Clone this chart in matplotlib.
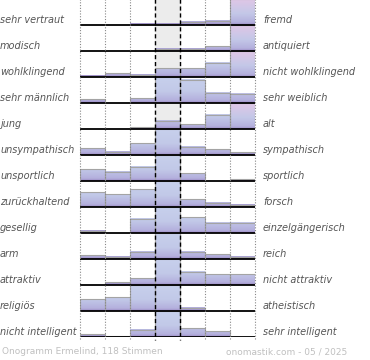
import numpy as np
import matplotlib
matplotlib.use('Agg')
import matplotlib.pyplot as plt
from matplotlib.colors import LinearSegmentedColormap

# semantic pairs, top to bottom
left_labels = ['sehr vertraut', 'modisch', 'wohlklingend', 'sehr männlich', 'jung',
               'unsympathisch', 'unsportlich', 'zurückhaltend', 'gesellig', 'arm',
               'attraktiv', 'religiös', 'nicht intelligent']
right_labels = ['fremd', 'antiquiert', 'nicht wohlklingend', 'sehr weiblich', 'alt',
                'sympathisch', 'sportlich', 'forsch', 'einzelgängerisch', 'reich',
                'nicht attraktiv', 'atheistisch', 'sehr intelligent']

# bar heights per row, 7 steps, as share of row height (>=1 is clipped)
votes = [
    [0.00, 0.00, 0.05, 0.05, 0.13, 0.17, 1.00],
    [0.00, 0.00, 0.00, 0.09, 0.09, 0.19, 1.00],
    [0.04, 0.14, 0.09, 0.33, 0.33, 0.54, 1.00],
    [0.14, 0.00, 0.18, 1.00, 0.89, 0.40, 0.35],
    [0.00, 0.00, 0.07, 0.31, 0.18, 0.54, 1.00],
    [0.26, 0.13, 0.45, 1.00, 0.32, 0.22, 0.10],
    [0.45, 0.36, 0.55, 1.00, 0.30, 0.00, 0.06],
    [0.57, 0.49, 0.68, 1.00, 0.30, 0.17, 0.08],
    [0.08, 0.00, 0.54, 1.00, 0.60, 0.40, 0.40],
    [0.15, 0.09, 0.28, 1.00, 0.28, 0.18, 0.09],
    [0.00, 0.10, 0.26, 1.00, 0.51, 0.41, 0.41],
    [0.46, 0.53, 1.00, 1.00, 0.13, 0.00, 0.00],
    [0.10, 0.02, 0.27, 1.00, 0.33, 0.23, 0.00],
]

footer_left = 'Onogramm Ermelind, 118 Stimmen'
footer_right = 'onomastik.com - 05 / 2025'

n_rows = len(left_labels)
n_cols = 7

fig = plt.figure(figsize=(3.7, 3.6), dpi=100)
ax = fig.add_axes([80/370, 23/360, 175/370, 338/360])
ax.set_xlim(0, n_cols)
ax.set_ylim(n_rows, 0)
ax.axis('off')

# center column shading
ax.axvspan(3, 4, color='#ececec', zorder=0)

blue_map = LinearSegmentedColormap.from_list('b', [(0, '#9a88c2'), (0.1, '#b4b0dd'),
                                                  (0.45, '#c2c9e8'), (1, '#c7d0ec')])
pink_map = LinearSegmentedColormap.from_list('p', [(0, '#9a88c2'), (0.1, '#b4b0dd'),
                                                  (0.45, '#c4c8e8'), (1, '#e0c6e6')])
grad = np.linspace(1, 0, 200)

for i, row in enumerate(votes):
    base = i + 1
    for c, v in enumerate(row):
        h = min(v, 1.0)
        if h <= 0:
            continue
        cmap = pink_map if c == n_cols - 1 else blue_map
        part = grad[grad <= h]
        img = cmap(part)[:, None, :]
        ax.imshow(img, extent=(c, c + 1, base, base - h), aspect='auto',
                  interpolation='bilinear', zorder=1)
        ax.plot([c, c, c + 1, c + 1], [base, base - h, base - h, base],
                color='#a4a4a4', lw=0.8, zorder=2)
    ax.plot([0, n_cols], [base, base], color='black', lw=1.3, zorder=3,
            solid_capstyle='butt')
    ax.text(-80/25, base - 0.2, left_labels[i], ha='left', va='center',
            fontsize=7, style='italic', color='#555555', clip_on=False)
    ax.text(n_cols + 8/25, base - 0.2, right_labels[i], ha='left', va='center',
            fontsize=7, style='italic', color='#555555', clip_on=False)

for x in [0, 1, 2, 5, 6, 7]:
    ax.plot([x, x], [0, n_rows + 0.1], color='#888888', lw=0.8,
            linestyle=(0, (1, 1.5)), zorder=4, clip_on=False)
for x in [3, 4]:
    ax.plot([x, x], [0, n_rows + 0.1], color='black', lw=1.0,
            linestyle=(0, (3, 2)), zorder=4, clip_on=False)

fig.text(2/370, 8/360, footer_left, ha='left', va='center', fontsize=6.5, color='#c0c0c0')
fig.text(347/370, 8/360, footer_right, ha='right', va='center', fontsize=6.5, color='#c0c0c0')

fig.savefig('out.png', dpi=100)
plt.close(fig)
